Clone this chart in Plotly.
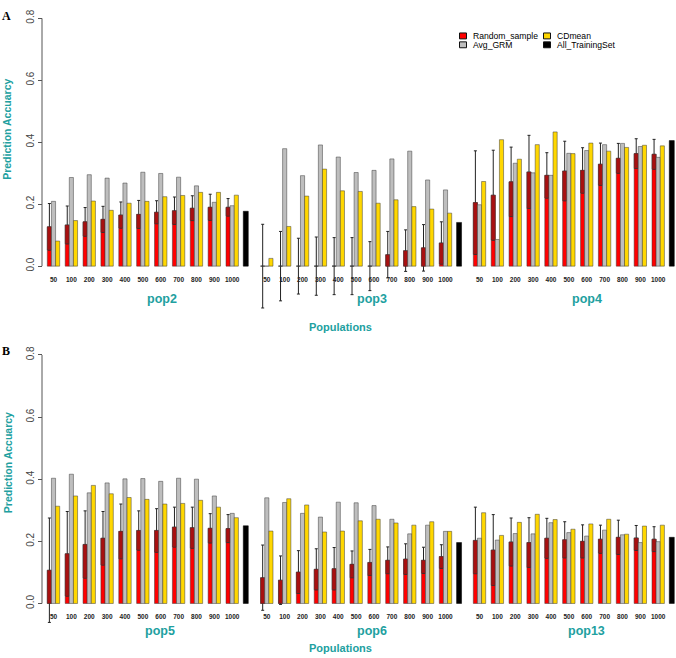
import plotly.graph_objects as go

# ---------------- data ----------------
sizes = ["50", "100", "200", "300", "400", "500", "600", "700", "800", "900", "1000"]
populations = ["pop2", "pop3", "pop4", "pop5", "pop6", "pop13"]
train_sizes = ["2159", "2155", "2147", "2130", "2170", "2175"]
training_set = [0.177, 0.141, 0.405, 0.250, 0.196, 0.213]
legend_labels = ["Random_sample", "Avg_GRM", "CDmean", "All_TrainingSet"]
y_ticks = [0.0, 0.2, 0.4, 0.6, 0.8]

pop2_random = [0.127, 0.133, 0.143, 0.151, 0.165, 0.167, 0.174, 0.179, 0.187, 0.190, 0.190]
pop2_random_sd = [0.075, 0.061, 0.046, 0.042, 0.042, 0.045, 0.037, 0.044, 0.040, 0.042, 0.028]
pop2_grm = [0.209, 0.286, 0.295, 0.284, 0.268, 0.303, 0.299, 0.287, 0.259, 0.206, 0.195]
pop2_cdmean = [0.081, 0.147, 0.210, 0.180, 0.203, 0.209, 0.224, 0.228, 0.238, 0.238, 0.229]

pop3_random = [0.0, 0.0, 0.0, 0.0, 0.0, 0.0, 0.0, 0.037, 0.050, 0.059, 0.075]
pop3_random_sd = [0.135, 0.112, 0.090, 0.094, 0.092, 0.092, 0.079, 0.075, 0.067, 0.075, 0.068]
pop3_grm = [0.0, 0.379, 0.292, 0.391, 0.352, 0.302, 0.309, 0.346, 0.371, 0.278, 0.246]
pop3_cdmean = [0.025, 0.128, 0.226, 0.313, 0.243, 0.241, 0.203, 0.214, 0.192, 0.184, 0.171]

pop4_random = [0.205, 0.229, 0.272, 0.304, 0.293, 0.307, 0.309, 0.329, 0.348, 0.363, 0.361]
pop4_random_sd = [0.167, 0.145, 0.112, 0.118, 0.073, 0.096, 0.073, 0.068, 0.048, 0.048, 0.048]
pop4_grm = [0.198, 0.086, 0.332, 0.301, 0.293, 0.364, 0.373, 0.392, 0.396, 0.386, 0.351]
pop4_cdmean = [0.273, 0.408, 0.345, 0.392, 0.433, 0.363, 0.397, 0.371, 0.383, 0.390, 0.388]

pop5_random = [0.107, 0.160, 0.190, 0.210, 0.232, 0.235, 0.235, 0.246, 0.244, 0.242, 0.241]
pop5_random_sd = [0.168, 0.136, 0.108, 0.086, 0.088, 0.063, 0.070, 0.064, 0.066, 0.047, 0.045]
pop5_grm = [0.403, 0.416, 0.356, 0.388, 0.401, 0.402, 0.393, 0.403, 0.400, 0.346, 0.290]
pop5_cdmean = [0.313, 0.346, 0.380, 0.353, 0.341, 0.335, 0.320, 0.322, 0.332, 0.310, 0.276]

pop6_random = [0.083, 0.075, 0.101, 0.110, 0.112, 0.126, 0.132, 0.139, 0.143, 0.139, 0.151]
pop6_random_sd = [0.105, 0.078, 0.069, 0.066, 0.068, 0.043, 0.042, 0.043, 0.049, 0.042, 0.038]
pop6_grm = [0.340, 0.325, 0.290, 0.278, 0.326, 0.324, 0.315, 0.271, 0.224, 0.252, 0.232]
pop6_cdmean = [0.233, 0.337, 0.317, 0.230, 0.233, 0.266, 0.271, 0.259, 0.252, 0.263, 0.232]

pop13_random = [0.203, 0.172, 0.198, 0.196, 0.210, 0.205, 0.200, 0.207, 0.213, 0.211, 0.207]
pop13_random_sd = [0.107, 0.114, 0.077, 0.080, 0.064, 0.058, 0.053, 0.045, 0.055, 0.040, 0.040]
pop13_grm = [0.210, 0.204, 0.225, 0.224, 0.260, 0.228, 0.217, 0.236, 0.221, 0.196, 0.199]
pop13_cdmean = [0.292, 0.219, 0.261, 0.287, 0.270, 0.239, 0.256, 0.271, 0.223, 0.249, 0.252]

random_vals = [pop2_random, pop3_random, pop4_random, pop5_random, pop6_random, pop13_random]
random_sds = [pop2_random_sd, pop3_random_sd, pop4_random_sd, pop5_random_sd, pop6_random_sd, pop13_random_sd]
grm_vals = [pop2_grm, pop3_grm, pop4_grm, pop5_grm, pop6_grm, pop13_grm]
cdmean_vals = [pop2_cdmean, pop3_cdmean, pop4_cdmean, pop5_cdmean, pop6_cdmean, pop13_cdmean]

# ---------------- style / layout ----------------
W, H = 676, 658
TEAL = "#21a0a0"
RED, DARKRED, GRAY, YELLOW, BLACK = "#ff0000", "#a81010", "#bebebe", "#ffd700", "#000000"
EDGE = "#3a3a3a"
FONT = "Liberation Sans, Arial, sans-serif"

spacing = 17.87
group_c0 = [53.5, 266.8, 479.5]
x_range = [-0.5, 10.95]
bw = 0.231
black_w = 0.28
black_shift = -0.24

# panel pixel geometry: (pixel of y=0, pixels per unit)
panels = [(260.7, 314.25), (602.7, 315.0)]
y_range = [-0.15, 0.8]

def px(x):
    return x / W

def py(y):
    return 1 - y / H

fig = go.Figure()
layout = dict()
annotations = []
shapes = []

for i, pop in enumerate(populations):
    panel = 0 if i < 3 else 1
    col = i % 3
    xname = "x" if i == 0 else f"x{i+1}"
    yname = "y" if panel == 0 else "y2"
    cats = sizes + [train_sizes[i]]
    means = random_vals[i]
    sds = random_sds[i]
    lows = [max(m - s, 0.0) for m, s in zip(means, sds)]

    common = dict(xaxis=xname, yaxis=yname, showlegend=False, hoverinfo="x+y")
    # red bars with mean +/- sd error bars
    fig.add_trace(go.Bar(x=sizes, y=means, name=legend_labels[0], offset=-1.5 * bw, width=bw,
                         marker=dict(color=RED, line=dict(color=EDGE, width=0.5)),
                         error_y=dict(type="data", array=sds, symmetric=True, color="#222222",
                                      thickness=1, width=1.5), **common))
    # darker band from (mean - sd) to mean, drawn over the lower half of the error bar
    fig.add_trace(go.Bar(x=sizes, y=[m - l for m, l in zip(means, lows)], base=lows,
                         name=legend_labels[0] + " sd", offset=-1.5 * bw, width=bw,
                         marker=dict(color=DARKRED, line=dict(color=EDGE, width=0.5)), **common))
    fig.add_trace(go.Bar(x=sizes, y=grm_vals[i], name=legend_labels[1], offset=-0.5 * bw, width=bw,
                         marker=dict(color=GRAY, line=dict(color=EDGE, width=0.5)), **common))
    fig.add_trace(go.Bar(x=sizes, y=cdmean_vals[i], name=legend_labels[2], offset=0.5 * bw, width=bw,
                         marker=dict(color=YELLOW, line=dict(color=EDGE, width=0.5)), **common))
    fig.add_trace(go.Bar(x=[train_sizes[i]], y=[training_set[i]], name=legend_labels[3],
                         offset=-black_w / 2 + black_shift, width=black_w,
                         marker=dict(color=BLACK, line=dict(color=BLACK, width=0.5)), **common))

    c0 = group_c0[col]
    d0 = c0 + (x_range[0]) * spacing
    d1 = c0 + (x_range[1]) * spacing
    zero_px, unit = panels[panel]
    layout["xaxis" if i == 0 else f"xaxis{i+1}"] = dict(
        domain=[px(d0), min(px(d1), 1.0)], range=x_range, type="category",
        categoryorder="array", categoryarray=cats,
        tickvals=sizes, ticktext=sizes,
        anchor="free", position=py(zero_px),
        showline=False, showgrid=False, zeroline=False,
        ticks="outside", ticklen=7, tickcolor="rgba(0,0,0,0)",
        tickfont=dict(family=FONT, size=6.5, color="#222222", weight="bold"),
        tickangle=0, fixedrange=True,
    )
    annotations.append(dict(
        x=train_sizes[i], xref=xname, y=0, yref=yname, yshift=-16,
        xshift=black_shift * spacing, text=train_sizes[i], textangle=-90,
        showarrow=False, xanchor="center", yanchor="middle",
        font=dict(family=FONT, size=6.5, color="#222222", weight="bold")))

pop_label_pos = [(162, 294), (371.5, 294), (587, 294), (160, 630.5), (371.5, 630.5), (586, 630.5)]
for pop, (lx, ly) in zip(populations, pop_label_pos):
    annotations.append(dict(x=px(lx), y=py(ly), xref="paper", yref="paper", text=pop,
                            showarrow=False, xanchor="center", yanchor="middle",
                            font=dict(family=FONT, size=12.5, color=TEAL, weight="bold")))

for panel, (zero_px, unit) in enumerate(panels):
    yname = "yaxis" if panel == 0 else "yaxis2"
    top = zero_px - y_range[1] * unit
    bot = zero_px - y_range[0] * unit
    layout[yname] = dict(
        domain=[py(bot), py(top)], range=y_range,
        anchor="free", position=px(42),
        tickvals=y_ticks, ticktext=[f"{v:.1f}" for v in y_ticks],
        ticks="outside", ticklen=4, tickcolor="#555555", tickwidth=1,
        tickangle=-90, showline=False, showgrid=False, zeroline=False,
        tickfont=dict(family=FONT, size=10, color="#444444"), fixedrange=True,
    )
    yref = "y" if panel == 0 else "y2"
    shapes.append(dict(type="line", xref="paper", yref=yref, x0=px(42), x1=px(42),
                       y0=min(y_ticks), y1=max(y_ticks), line=dict(color="#555555", width=1)))
    annotations.append(dict(x=px(7.5), y=py([122, 460][panel]), xref="paper", yref="paper",
                            text="Prediction Accuarcy", textangle=-90, showarrow=False,
                            xanchor="center", yanchor="middle",
                            font=dict(family=FONT, size=10.5, color=TEAL, weight="bold")))
    annotations.append(dict(x=px(340), y=py([322, 648][panel]), xref="paper", yref="paper",
                            text="Populations", showarrow=False, xanchor="center", yanchor="middle",
                            font=dict(family=FONT, size=11, color=TEAL, weight="bold")))
    annotations.append(dict(x=px(6), y=py([7, 347][panel]), xref="paper", yref="paper",
                            text=["A", "B"][panel], showarrow=False, xanchor="center", yanchor="middle",
                            font=dict(family="Liberation Serif, Times New Roman, serif", size=12,
                                      color="#000000", weight="bold")))

legend_colors = [RED, GRAY, YELLOW, BLACK]
legend_pos = [(463, 27.3), (463, 36.3), (547, 27.3), (547, 36.3)]
for lab, colr, (lx, ly) in zip(legend_labels, legend_colors, legend_pos):
    shapes.append(dict(type="rect", xref="paper", yref="paper",
                       x0=px(lx - 3.5), x1=px(lx + 3.5), y0=py(ly + 3), y1=py(ly - 3),
                       fillcolor=colr, line=dict(color="#111111", width=1)))
    annotations.append(dict(x=px(lx + 8), y=py(ly), xref="paper", yref="paper", text=lab,
                            showarrow=False, xanchor="left", yanchor="middle",
                            font=dict(family=FONT, size=8.6, color="#000000")))

fig.update_layout(
    width=W, height=H,
    margin=dict(l=0, r=0, t=0, b=0),
    paper_bgcolor="white", plot_bgcolor="white",
    barmode="overlay", showlegend=False,
    annotations=annotations, shapes=shapes,
    font=dict(family=FONT),
    **layout,
)

fig.write_html(
    "out.html",
    config={"displayModeBar": False},
    post_script="document.body.style.margin='0';document.body.style.padding='0';"
                "document.documentElement.style.overflow='hidden';"
                "var gd=document.getElementsByClassName('plotly-graph-div')[0];"
                "gd.style.position='fixed';gd.style.top='0px';gd.style.left='0px';",
)
